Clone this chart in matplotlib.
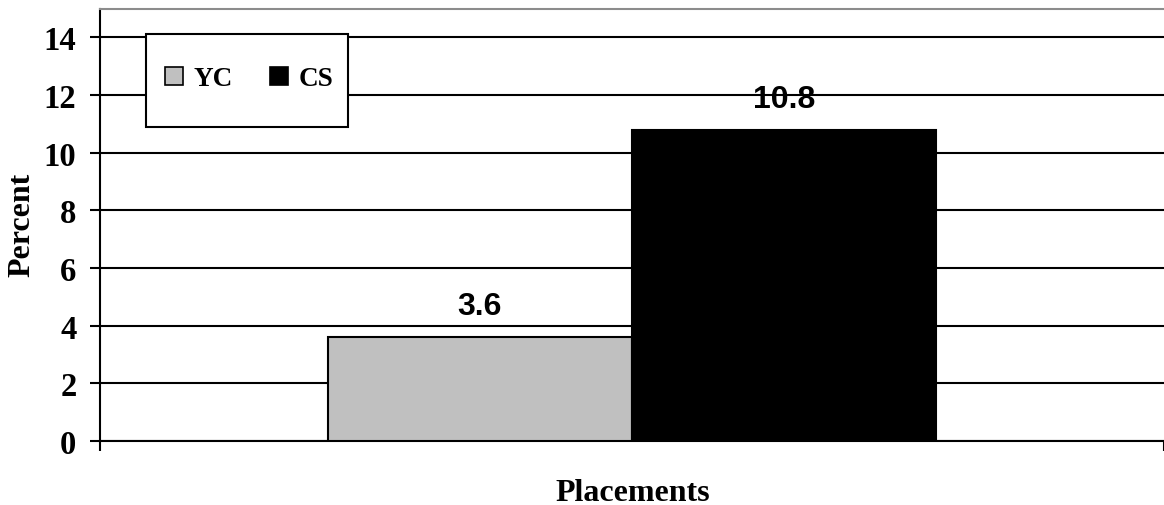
import matplotlib.pyplot as plt
from matplotlib.patches import Patch, Rectangle

series = ["YC", "CS"]
values = [3.6, 10.8]
colors = ["#C0C0C0", "#000000"]
yticks = [0, 2, 4, 6, 8, 10, 12, 14]

serif = "Liberation Serif"
sans = "Liberation Sans"
W, H = 1164, 506

fig = plt.figure(figsize=(W / 100, H / 100), dpi=100)
ax = fig.add_axes([100 / W, 1 - 442 / H, 1 - 100 / W, (442 - 9.5) / H])

width = 0.286
offsets = [-width / 2, width / 2]
for name, v, c, off in zip(series, values, colors, offsets):
    ax.bar(off, v, width=width, color=c, edgecolor="black", linewidth=1.5, zorder=3)
    ax.text(off, v + 0.55, f"{v:.1f}", ha="center", va="bottom",
            fontsize=23, fontweight="bold", family=sans, zorder=4)

ax.set_xlim(-0.5, 0.5)
ax.set_ylim(0, 15)
ax.set_yticks(yticks)
ax.set_yticklabels([str(t) for t in yticks], fontsize=23.5, fontweight="bold", family=serif)
ax.tick_params(axis="y", direction="out", length=7, width=1.5, pad=10)
ax.set_xticks([-0.5, 0.5])
ax.set_xticklabels(["", ""])
ax.tick_params(axis="x", direction="out", length=7, width=1.5)

ax.yaxis.grid(True, color="black", linewidth=1.5, zorder=0)
ax.set_axisbelow(True)

ax.spines["left"].set_linewidth(1.5)
ax.spines["bottom"].set_linewidth(1.5)
ax.spines["right"].set_visible(False)
ax.spines["top"].set_color("#8c8c8c")
ax.spines["top"].set_linewidth(1.5)

# axis titles
fig.text(22 / W, 1 - 225 / H, "Percent", rotation=90, ha="center", va="center",
         fontsize=23, fontweight="bold", family=serif)
fig.text(633 / W, 1 - 501 / H, "Placements", ha="center", va="baseline",
         fontsize=23, fontweight="bold", family=serif)

# legend: frame drawn separately so the box can be taller than its contents
fig.patches.append(Rectangle((146 / W, 1 - 128 / H), 202 / W, 93 / H,
                             transform=fig.transFigure, facecolor="white",
                             edgecolor="black", linewidth=1.5, zorder=5))
handles = [Patch(facecolor=c, edgecolor="black", linewidth=1.2, label=n)
           for n, c in zip(series, colors)]
leg = fig.legend(handles=handles, ncol=2, loc="center left",
                 bbox_to_anchor=(165 / W, 1 - 80 / H),
                 prop={"family": serif, "weight": "bold", "size": 19.5},
                 frameon=False, handlelength=0.67, handleheight=0.63,
                 handletextpad=0.37, columnspacing=1.4, borderpad=0,
                 borderaxespad=0)
leg.set_zorder(6)

fig.savefig("out.png", dpi=100)
